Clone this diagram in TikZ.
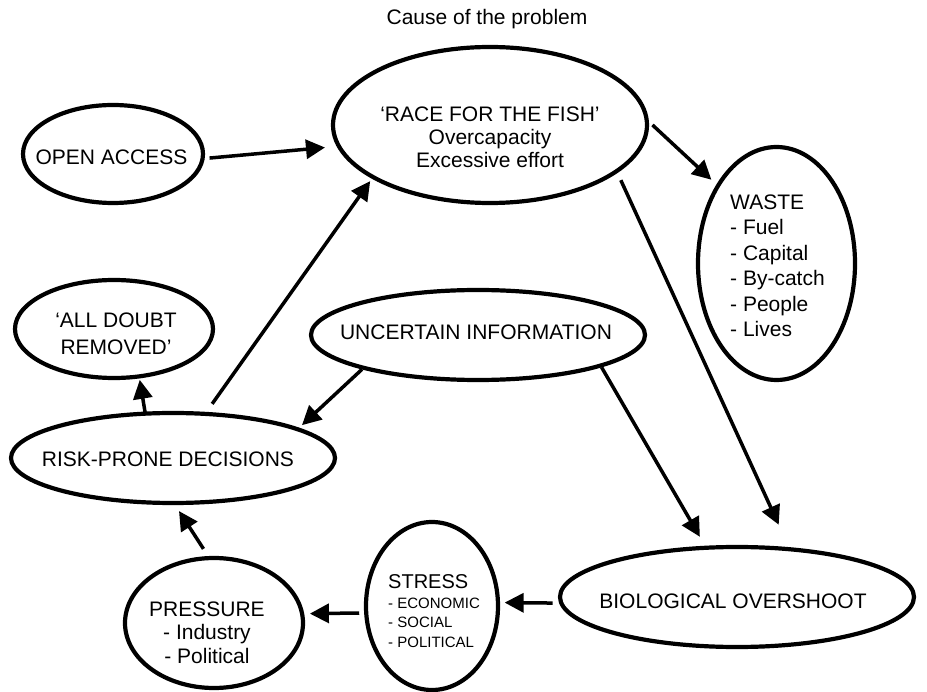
\documentclass[tikz,border=0pt]{standalone}
\usepackage{fontspec}
\setmainfont{Liberation Sans}
\usetikzlibrary{shapes.geometric,arrows.meta}
\begin{document}
\begin{tikzpicture}[x=1pt,y=-1pt,
  ell/.style={draw,ellipse,line width=4.2pt,inner sep=0pt,outer sep=0pt},
  lbl/.style={inner sep=0pt,font=\fontsize{21}{23}\selectfont},
  arr/.style={line width=3.5pt,-{Triangle[length=19pt,width=19pt]}}]
\useasboundingbox (0,0) rectangle (927,692);
% ellipses
\node[ell,minimum width=180,minimum height=98] (oa) at (113,154) {};
\node[ell,minimum width=314,minimum height=156] (race) at (490,125) {};
\node[ell,minimum width=157,minimum height=233] (waste) at (776.5,263.5) {};
\node[ell,minimum width=198,minimum height=98] (doubt) at (114,329) {};
\node[ell,minimum width=334,minimum height=90] (unc) at (478,335) {};
\node[ell,minimum width=324,minimum height=90] (risk) at (173,458) {};
\node[ell,minimum width=354,minimum height=100] (bio) at (737,597) {};
\node[ell,minimum width=132,minimum height=168] (stress) at (432,606) {};
\node[ell,minimum width=178,minimum height=130] (press) at (214,623) {};
% texts
\node[lbl,anchor=base] (title) at (487,25) {Cause of the problem};
\node[lbl,anchor=base] (oat) at (111.5,165) {OPEN ACCESS};
\node[lbl,align=center,font=\fontsize{21}{23}\selectfont] (racet) at (490,137) {‘RACE FOR THE FISH’\\Overcapacity\\Excessive effort};
\node[lbl,align=left,anchor=west,font=\fontsize{21}{25.5}\selectfont] (wastet) at (730,266) {WASTE\\- Fuel\\- Capital\\- By-catch\\- People\\- Lives};
\node[lbl,align=center,font=\fontsize{21}{27}\selectfont] (doubtt) at (116,334) {‘ALL DOUBT\\REMOVED’};
\node[lbl,anchor=base] (unct) at (476,340) {UNCERTAIN INFORMATION};
\node[lbl,anchor=base] (riskt) at (168,467) {RISK-PRONE DECISIONS};
\node[lbl,anchor=base] (biot) at (733,608) {BIOLOGICAL OVERSHOOT};
\node[lbl,align=left,anchor=west,font=\fontsize{15}{19.5}\selectfont] (stresst) at (388,611) {{\fontsize{20}{19.5}\selectfont STRESS}\\- ECONOMIC\\- SOCIAL\\- POLITICAL};
\node[lbl,align=center,font=\fontsize{21}{23.5}\selectfont] (presst) at (207,632.5) {PRESSURE\\- Industry\\- Political};
% connectors
\draw[arr,shorten <=7pt,shorten >=14pt] (oa.-3) -- (race.188);
\draw[arr,shorten <=8pt,shorten >=9pt] (race.2.5) -- (waste.127.7);
\draw[arr,shorten <=10pt,shorten >=27pt] (race.-20.6) -- (bio.42.7);
\draw[arr,shorten <=2pt,shorten >=12.7pt] (unc.-14.6) -- (bio.122.5);
\draw[arr,shorten <=2.3pt,shorten >=6pt] (unc.-164.8) -- (risk.13.4);
\draw[arr,shorten <=12.3pt,shorten >=5pt] (risk.54.3) -- (race.-156.8);
\draw[arr,shorten >=3.5pt] (risk.122) -- (doubt.-62.1);
\draw[arr,shorten <=8.7pt,shorten >=6.7pt] (bio.-178.4) -- (stress.3.5);
\draw[arr,shorten <=7pt,shorten >=7.8pt] (stress.186.1) -- (press.6.5);
\draw[arr,shorten <=11pt,shorten >=9.6pt] (press.94.2) -- (risk.-89.4);
\end{tikzpicture}
\end{document}
